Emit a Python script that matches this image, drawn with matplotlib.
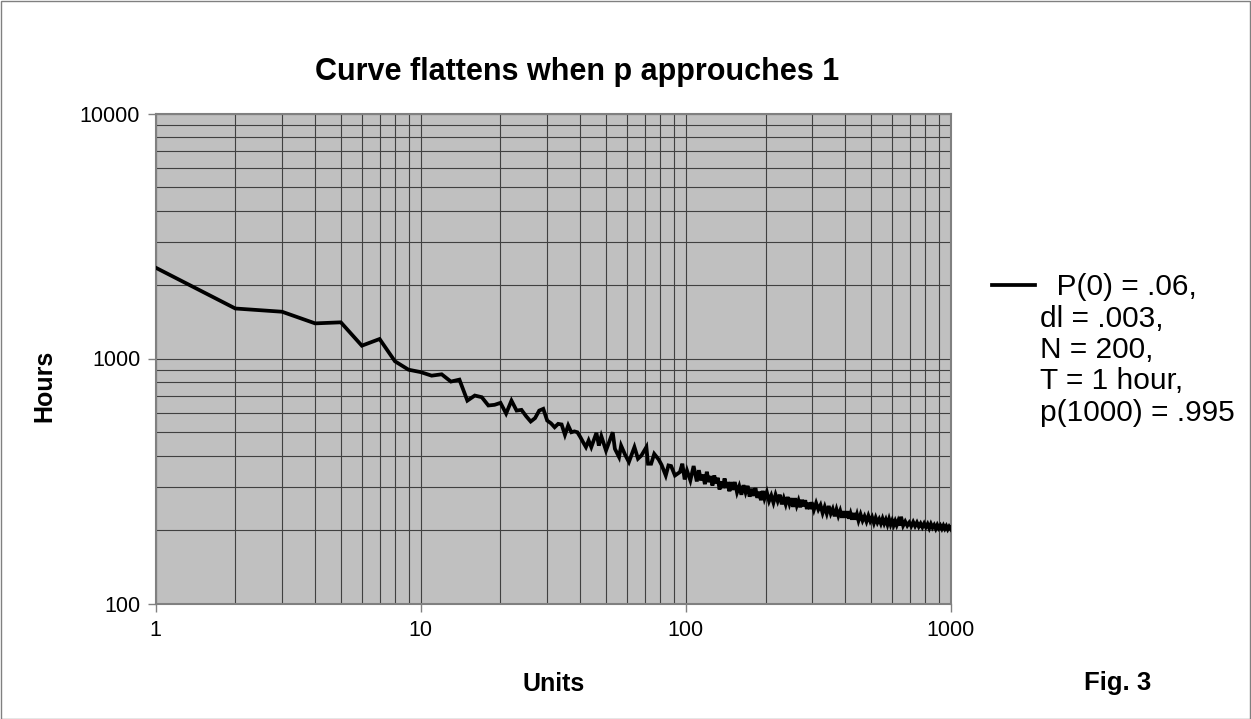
import matplotlib
matplotlib.use("Agg")
import matplotlib.pyplot as plt
from matplotlib.lines import Line2D
from matplotlib.patches import Rectangle
from matplotlib.ticker import FuncFormatter, LogLocator, NullFormatter

plt.rcParams['font.family'] = ['Liberation Sans', 'DejaVu Sans']

# values (log-log, noisy decay toward ~200 hours)
units = [1, 2, 3, 4, 5, 6, 7, 8, 9, 10,
         11, 12, 13, 14, 15, 16, 17, 18, 19, 20,
         21, 22, 23, 24, 25, 26, 27, 28, 29, 30,
         31, 32, 33, 34, 35, 36, 37, 38, 39, 40,
         41, 42, 43, 44, 46, 47, 48, 50, 53, 54,
         56, 57, 59, 61, 64, 66, 68, 71, 72, 74,
         76, 79, 81, 84, 86, 88, 91, 95, 97, 99,
         101, 104, 107,
         110, 112, 114, 116, 118, 120, 122, 124, 126, 128,
         130, 132, 134, 136, 138, 140, 142, 144, 146, 148, 150,
         153, 156, 159, 162, 165, 168, 171, 174, 177, 180,
         183, 186, 189, 192, 195, 198,
         202, 206, 210, 214, 218, 222, 226, 230, 234, 238,
         242, 246, 250, 254, 258, 262, 266, 270, 274, 278,
         282, 286, 290, 294, 298,
         304, 310, 316, 322, 328, 334, 340, 346, 352, 358,
         364, 370, 376, 382, 388, 394, 400, 406, 412, 418,
         424, 430, 436, 442, 448,
         456, 464, 472, 480, 488, 496, 504, 512, 520, 528,
         536, 544, 552, 560, 568, 576, 584, 592, 600, 608,
         616, 624, 632, 640, 648,
         660, 672, 684, 696, 708, 720, 732, 744, 756, 768,
         780, 792, 804, 816, 828, 840, 852, 864, 876, 888,
         900, 912, 924, 936, 948, 960, 972, 984, 996, 1000]
hours = [2350, 1600, 1552, 1391, 1405, 1128, 1201, 974, 900, 880,
         851, 862, 805, 820, 673, 706, 695, 643, 647, 659,
         596, 673, 613, 617, 581, 553, 571, 613, 623, 558,
         544, 524, 541, 538, 488, 533, 500, 504, 500, 478,
         455, 435, 463, 435, 497, 441, 482, 421, 500, 428,
         396, 441, 405, 378, 435, 390, 402, 435, 372, 372,
         408, 387, 368, 333, 366, 364, 333, 344, 372, 321,
         349, 318, 364,
         315, 350, 318, 336, 307, 345, 313, 331, 303, 333,
         309, 326, 292, 315, 296, 324, 296, 313, 287, 313, 291,
         313, 284, 301, 278, 304, 284, 302, 273, 294, 275,
         296, 270, 286, 264, 288, 268,
         285, 262, 276, 258, 278, 262, 278, 254, 269, 254,
         272, 255, 269, 248, 269, 251, 263, 247, 265, 249,
         264, 243, 258, 243, 259,
         241, 257, 242, 252, 234, 248, 233, 250, 233, 243,
         227, 242, 228, 239, 224, 238, 224, 238, 222, 233,
         220, 234, 220, 231, 218,
         231, 218, 227, 216, 228, 217, 225, 213, 224, 214,
         221, 212, 222, 212, 220, 210, 221, 210, 218, 209,
         217, 209, 217, 208, 226,
         208, 216, 208, 214, 207, 215, 207, 214, 206, 212,
         205, 212, 205, 211, 203, 211, 204, 209, 202, 209,
         203, 208, 202, 208, 202, 207, 201, 206, 202, 204]

legend_lines = ["  P(0) = .06,", "dl = .003,", "N = 200,", "T = 1 hour,", "p(1000) = .995"]

W, H = 1251, 719
fig = plt.figure(figsize=(W / 100, H / 100), dpi=100)
left, right, top, bottom = 155.5, 951, 113.5, 603.5
ax = fig.add_axes([left / W, 1 - bottom / H, (right - left) / W, (bottom - top) / H])

ax.set_facecolor('#c0c0c0')
ax.plot(units, hours, color='black', lw=2.7, solid_joinstyle='miter', zorder=3)

ax.set_xscale('log')
ax.set_yscale('log')
ax.set_xlim(1, 1000)
ax.set_ylim(100, 10000)

fmt = FuncFormatter(lambda v, pos: f'{v:g}')
ax.xaxis.set_major_formatter(fmt)
ax.yaxis.set_major_formatter(fmt)
ax.xaxis.set_minor_locator(LogLocator(subs=range(2, 10)))
ax.yaxis.set_minor_locator(LogLocator(subs=range(2, 10)))
ax.xaxis.set_minor_formatter(NullFormatter())
ax.yaxis.set_minor_formatter(NullFormatter())

ax.grid(True, which='both', color='#404040', lw=0.8)
ax.set_axisbelow(True)
ax.tick_params(which='major', direction='out', length=6, width=1, color='#808080',
               labelsize=15.5)
ax.tick_params(axis='x', which='major', pad=6)
ax.tick_params(axis='y', which='major', pad=5)
ax.tick_params(which='minor', length=0)
for s in ax.spines.values():
    s.set_color('#808080')
    s.set_linewidth(1.5)

ax.set_xlabel('Units', fontsize=18, fontweight='bold', va='center')
ax.set_ylabel('Hours', fontsize=18, fontweight='bold', va='center')
ax.xaxis.set_label_coords(0.5, (bottom - 684) / (bottom - top))
ax.yaxis.set_label_coords((44 - left) / (right - left), (bottom - 386) / (bottom - top))

fig.text(577 / W, 1 - 80 / H, 'Curve flattens when p approuches 1',
         ha='center', va='baseline', fontsize=22, fontweight='bold')
fig.text(1118 / W, 1 - 683 / H, 'Fig. 3', ha='center', va='center',
         fontsize=18.5, fontweight='bold')

# legend, drawn by hand so the sample sits on the first line
fig.add_artist(Line2D([992 / W, 1035 / W], [1 - 285 / H, 1 - 285 / H],
                      color='black', lw=2.7, transform=fig.transFigure))
for i, txt in enumerate(legend_lines):
    fig.text(1040 / W, 1 - (295 + 31.5 * i) / H, txt, ha='left', va='baseline', fontsize=21.5)

fig.add_artist(Rectangle((0.5 / W, 0.5 / H), 1 - 1.5 / W, 1 - 1.5 / H, transform=fig.transFigure,
                         fill=False, ec='#808080', lw=1))

fig.savefig('out.png', dpi=100)
